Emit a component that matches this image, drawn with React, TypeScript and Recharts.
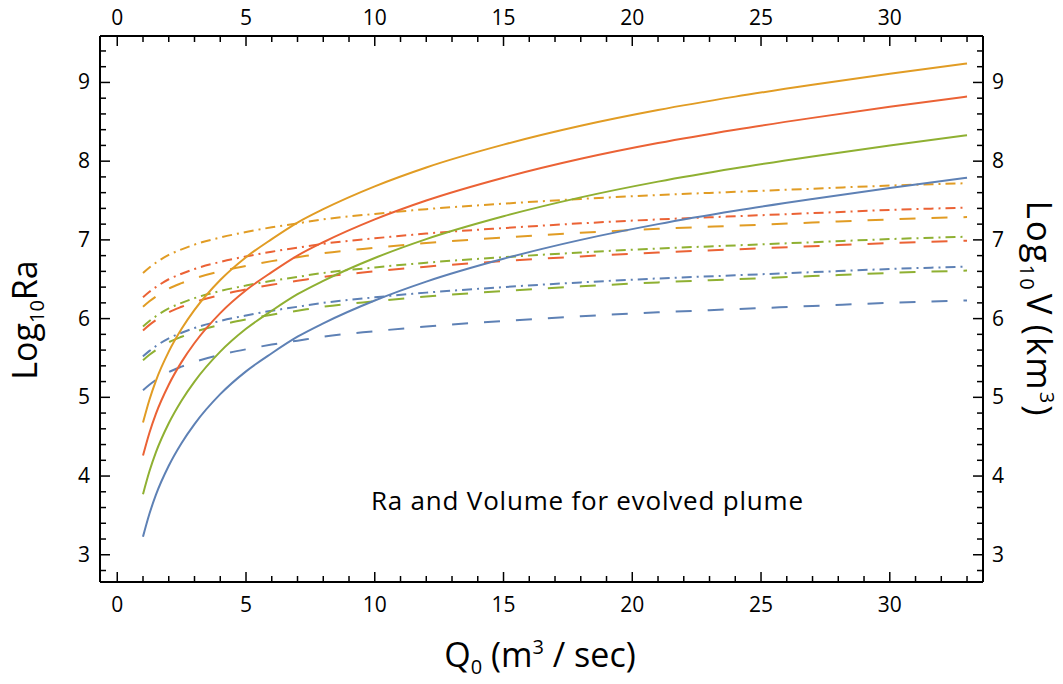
import { LineChart, Line, XAxis, YAxis } from 'recharts'

// discharge Q0 (m^3/sec)
const Q = [1, 1.25, 1.5, 2, 2.5, 3, 4, 5, 6, 7, 8, 10, 12, 15, 18, 21, 24, 27, 30, 33]

// log10 Ra (solid)
const RA_BLUE = [3.23, 3.52, 3.76, 4.13, 4.42, 4.66, 5.04, 5.33, 5.56, 5.77, 5.94, 6.23, 6.47, 6.76, 7.0, 7.2, 7.37, 7.52, 7.66, 7.79]
const RA_GREEN = [3.77, 4.06, 4.3, 4.67, 4.96, 5.2, 5.58, 5.87, 6.1, 6.31, 6.48, 6.77, 7.01, 7.3, 7.54, 7.74, 7.91, 8.06, 8.2, 8.33]
const RA_RED = [4.26, 4.55, 4.79, 5.16, 5.45, 5.69, 6.07, 6.36, 6.59, 6.8, 6.97, 7.26, 7.5, 7.79, 8.03, 8.23, 8.4, 8.55, 8.69, 8.82]
const RA_ORANGE = [4.68, 4.97, 5.21, 5.58, 5.87, 6.11, 6.49, 6.78, 7.01, 7.22, 7.39, 7.68, 7.92, 8.21, 8.45, 8.65, 8.82, 8.97, 9.11, 9.24]

// log10 V (dashed)
const V_BLUE = [5.09, 5.16, 5.22, 5.32, 5.39, 5.45, 5.54, 5.61, 5.67, 5.72, 5.77, 5.84, 5.9, 5.97, 6.03, 6.08, 6.12, 6.16, 6.2, 6.23]
const V_GREEN = [5.47, 5.54, 5.6, 5.7, 5.77, 5.83, 5.92, 5.99, 6.05, 6.1, 6.15, 6.22, 6.28, 6.35, 6.41, 6.46, 6.5, 6.54, 6.58, 6.61]
const V_RED = [5.85, 5.92, 5.98, 6.08, 6.15, 6.21, 6.3, 6.37, 6.43, 6.48, 6.53, 6.6, 6.66, 6.73, 6.79, 6.84, 6.88, 6.92, 6.96, 6.99]
const V_ORANGE = [6.15, 6.22, 6.28, 6.38, 6.45, 6.51, 6.6, 6.67, 6.73, 6.78, 6.83, 6.9, 6.96, 7.03, 7.09, 7.14, 7.18, 7.22, 7.26, 7.29]

// log10 V (dot-dashed)
const W_BLUE = [5.52, 5.59, 5.65, 5.75, 5.82, 5.88, 5.97, 6.04, 6.1, 6.15, 6.2, 6.27, 6.33, 6.4, 6.46, 6.51, 6.55, 6.59, 6.63, 6.66]
const W_GREEN = [5.9, 5.97, 6.03, 6.13, 6.2, 6.26, 6.35, 6.42, 6.48, 6.53, 6.58, 6.65, 6.71, 6.78, 6.84, 6.89, 6.93, 6.97, 7.01, 7.04]
const W_RED = [6.27, 6.34, 6.4, 6.5, 6.57, 6.63, 6.72, 6.79, 6.85, 6.9, 6.95, 7.02, 7.08, 7.15, 7.21, 7.26, 7.3, 7.34, 7.38, 7.41]
const W_ORANGE = [6.58, 6.65, 6.71, 6.81, 6.88, 6.94, 7.03, 7.1, 7.16, 7.21, 7.26, 7.33, 7.39, 7.46, 7.52, 7.57, 7.61, 7.65, 7.69, 7.72]

const X_TICKS = Array.from({ length: 34 }, (_, i) => i)
const Y_TICKS = Array.from({ length: 34 }, (_, i) => Math.round((2.8 + i * 0.2) * 10) / 10)

const BLUE = '#5E81B5'
const ORANGE = '#E19C24'
const GREEN = '#8FB032'
const RED = '#EB6235'

const DASH = '16 16'
const DOTDASH = '10 5 2 5'

const SERIES = [
  { key: 'vBlue', values: V_BLUE, color: BLUE, dash: DASH },
  { key: 'vGreen', values: V_GREEN, color: GREEN, dash: DASH },
  { key: 'vRed', values: V_RED, color: RED, dash: DASH },
  { key: 'vOrange', values: V_ORANGE, color: ORANGE, dash: DASH },
  { key: 'wBlue', values: W_BLUE, color: BLUE, dash: DOTDASH },
  { key: 'wGreen', values: W_GREEN, color: GREEN, dash: DOTDASH },
  { key: 'wRed', values: W_RED, color: RED, dash: DOTDASH },
  { key: 'wOrange', values: W_ORANGE, color: ORANGE, dash: DOTDASH },
  { key: 'raBlue', values: RA_BLUE, color: BLUE, dash: undefined },
  { key: 'raGreen', values: RA_GREEN, color: GREEN, dash: undefined },
  { key: 'raRed', values: RA_RED, color: RED, dash: undefined },
  { key: 'raOrange', values: RA_ORANGE, color: ORANGE, dash: undefined },
]

const data = Q.map((q, i) => {
  const row: Record<string, number> = { q }
  SERIES.forEach(s => { row[s.key] = s.values[i] })
  return row
})

// plot frame in page pixels
const LEFT = 100
const TOP = 36
const RIGHT = 983
const BOTTOM = 582

const FONT = '"Open Sans", sans-serif'
const isMajor = (v: number) => Math.abs(v - Math.round(v)) < 1e-6

const BottomTick = (props: any) => {
  const { x, payload } = props
  const major = payload.value % 5 === 0
  return (
    <g>
      <line x1={x} x2={x} y1={BOTTOM} y2={BOTTOM - (major ? 10 : 6)} stroke="#000" strokeWidth={1.5} />
      {major && (
        <text x={x} y={612} textAnchor="middle" fontSize={21} fontFamily={FONT} fill="#000">{payload.value}</text>
      )}
    </g>
  )
}

const TopTick = (props: any) => {
  const { x, payload } = props
  const major = payload.value % 5 === 0
  return (
    <g>
      <line x1={x} x2={x} y1={TOP} y2={TOP + (major ? 10 : 6)} stroke="#000" strokeWidth={1.5} />
      {major && (
        <text x={x} y={25} textAnchor="middle" fontSize={21} fontFamily={FONT} fill="#000">{payload.value}</text>
      )}
    </g>
  )
}

const LeftTick = (props: any) => {
  const { y, payload } = props
  const major = isMajor(payload.value)
  return (
    <g>
      <line x1={LEFT} x2={LEFT + (major ? 10 : 6)} y1={y} y2={y} stroke="#000" strokeWidth={1.5} />
      {major && (
        <text x={90} y={y + 7} textAnchor="end" fontSize={21} fontFamily={FONT} fill="#000">{Math.round(payload.value)}</text>
      )}
    </g>
  )
}

const RightTick = (props: any) => {
  const { y, payload } = props
  const major = isMajor(payload.value)
  return (
    <g>
      <line x1={RIGHT} x2={RIGHT - (major ? 10 : 6)} y1={y} y2={y} stroke="#000" strokeWidth={1.5} />
      {major && (
        <text x={992} y={y + 7} textAnchor="start" fontSize={21} fontFamily={FONT} fill="#000">{Math.round(payload.value)}</text>
      )}
    </g>
  )
}

const axisLine = { stroke: '#000', strokeWidth: 2 }

export default function App() {
  return (
    <div style={{ position: 'absolute', left: 0, top: 0, width: 1063, height: 684, background: '#fff' }}>
      <LineChart width={1063} height={684} data={data}
        margin={{ top: TOP - 1, right: 1063 - RIGHT - 1, bottom: 684 - BOTTOM - 1, left: LEFT - 1 }}>
        <XAxis xAxisId="b" type="number" dataKey="q" domain={[-0.67, 33.62]} ticks={X_TICKS} interval={0}
          orientation="bottom" height={1} axisLine={axisLine} tickLine={false} tick={<BottomTick />} allowDataOverflow />
        <XAxis xAxisId="t" type="number" dataKey="q" domain={[-0.67, 33.62]} ticks={X_TICKS} interval={0}
          orientation="top" height={1} axisLine={axisLine} tickLine={false} tick={<TopTick />} allowDataOverflow />
        <YAxis yAxisId="l" type="number" domain={[2.654, 9.59]} ticks={Y_TICKS} interval={0}
          orientation="left" width={1} axisLine={axisLine} tickLine={false} tick={<LeftTick />} allowDataOverflow />
        <YAxis yAxisId="r" type="number" domain={[2.654, 9.59]} ticks={Y_TICKS} interval={0}
          orientation="right" width={1} axisLine={axisLine} tickLine={false} tick={<RightTick />} allowDataOverflow />
        {SERIES.map(s => (
          <Line key={s.key} xAxisId="b" yAxisId="l" type="monotone" dataKey={s.key} stroke={s.color}
            strokeWidth={2} strokeDasharray={s.dash} dot={false} activeDot={false} isAnimationActive={false} />
        ))}
        <text x={587} y={510} textAnchor="middle" fontSize={26} fontFamily={FONT} fill="#000"
          textLength={432} lengthAdjust="spacing">
          Ra and Volume for evolved plume
        </text>
        <text transform="translate(37, 320) rotate(-90)" textAnchor="middle" fontSize={34} fontFamily={FONT} fill="#000">
          Log<tspan fontSize={20} dy={7}>10</tspan><tspan dy={-7}>Ra</tspan>
        </text>
        <text transform="translate(1027, 309) rotate(90)" textAnchor="middle" fontSize={35} fontFamily={FONT} fill="#000"
          letterSpacing={2}>
          Log<tspan fontSize={20} dy={7}>10</tspan><tspan dy={-7} dx={2}>V</tspan><tspan dx={8}>(km</tspan><tspan fontSize={20} dy={-13}>3</tspan><tspan dy={13}>)</tspan>
        </text>
        <text x={540} y={667} textAnchor="middle" fontSize={34} fontFamily={FONT} fill="#000">
          Q<tspan fontSize={20} dy={7}>0</tspan><tspan dy={-7}> (m</tspan><tspan fontSize={20} dy={-13}>3</tspan><tspan dy={13}> / sec)</tspan>
        </text>
      </LineChart>
    </div>
  )
}
